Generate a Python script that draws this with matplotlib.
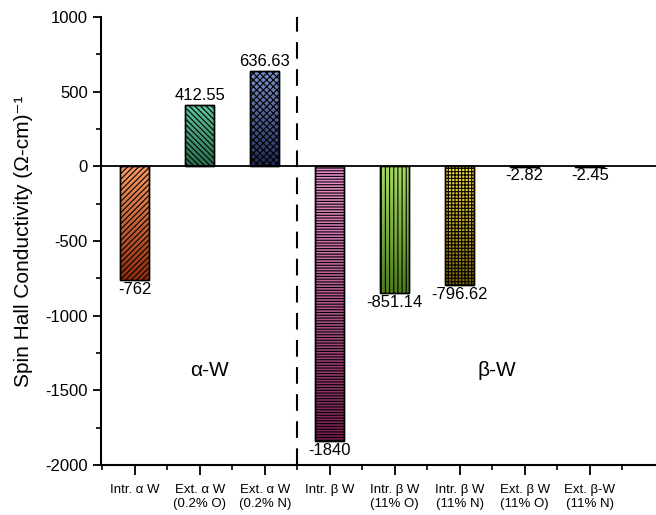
import numpy as np
import matplotlib
matplotlib.use("Agg")
import matplotlib.pyplot as plt
from matplotlib.colors import to_rgb

plt.rcParams['font.family'] = ['Liberation Sans', 'DejaVu Sans']
plt.rcParams['axes.unicode_minus'] = False
plt.rcParams['hatch.linewidth'] = 0.8

categories = ['Intr. α W', 'Ext. α W\n(0.2% O)', 'Ext. α W\n(0.2% N)', 'Intr. β W',
              'Intr. β W\n(11% O)', 'Intr. β W\n(11% N)', 'Ext. β W\n(11% O)', 'Ext. β-W\n(11% N)']
values = [-762, 412.55, 636.63, -1840, -851.14, -796.62, -2.82, -2.45]
labels = ['-762', '412.55', '636.63', '-1840', '-851.14', '-796.62', '-2.82', '-2.45']
hatches = ['//////', '\\\\\\\\\\\\', 'xxxxx', '------', '||||', '+++++', '', '']
top_colors = ['#fa9a62', '#5ec99c', '#7a90cc', '#ee92ce', '#aadc62', '#ffe43c', '#888888', '#888888']
bottom_colors = ['#902c0c', '#2c6e4e', '#1f2a54', '#7a1c50', '#4c7c1a', '#7c6000', '#333333', '#333333']

fig = plt.figure(figsize=(6.56, 5.15), dpi=100)
ax = fig.add_axes([0.154, 0.097, 0.846, 0.870])

x = np.arange(len(categories))
width = 0.45
bars = ax.bar(x, values, width, color='none', edgecolor='black', linewidth=1.0, zorder=3)

# gradient fill clipped to each bar, then hatch on top
for i, b in enumerate(bars):
    x0 = b.get_x()
    y0 = b.get_y()
    h = b.get_height()
    ylo, yhi = min(y0, y0 + h), max(y0, y0 + h)
    c1 = np.array(to_rgb(top_colors[i]))
    c2 = np.array(to_rgb(bottom_colors[i]))
    t = np.linspace(0, 1, 200)[:, None, None]
    grad = c1 * (1 - t) + c2 * t
    im = ax.imshow(grad, extent=[x0, x0 + width, ylo, yhi], origin='upper',
                   aspect='auto', zorder=2)
    im.set_clip_path(b)
    ax.bar(x[i], values[i], width, color='none', edgecolor='black', linewidth=1.0,
           hatch=hatches[i], zorder=4)

for i, v in enumerate(values):
    if v > 0:
        ax.annotate(labels[i], (x[i], v), xytext=(0, 1.5), textcoords='offset points',
                    ha='center', va='bottom', fontsize=12)
    else:
        ax.annotate(labels[i], (x[i], v), xytext=(0, -1), textcoords='offset points',
                    ha='center', va='top', fontsize=12)

ax.axhline(0, color='black', linewidth=1.3, zorder=5)
ax.axvline(2.5, color='black', linewidth=1.5, linestyle=(0, (8, 5)), zorder=5)

ax.text(1.15, -1365, 'α-W', fontsize=15, ha='center', va='center')
ax.text(5.57, -1365, 'β-W', fontsize=15, ha='center', va='center')

ax.set_xlim(-0.52, 8.02)
ax.set_ylim(-2000, 1000)
ax.set_xticks(x)
ax.set_xticklabels(categories, fontsize=9.5)
ax.set_xticks(np.arange(-0.5, 8.5, 1), minor=True)
ax.set_yticks(np.arange(-2000, 1001, 500))
ax.set_yticks(np.arange(-2000, 1001, 250), minor=True)
ax.tick_params(axis='y', labelsize=12, width=1.3, length=6)
ax.tick_params(axis='x', width=1.3, length=7, pad=7)
ax.tick_params(which='minor', width=1.2, length=3.5)
ax.set_ylabel('Spin Hall Conductivity (Ω-cm)⁻¹', fontsize=15, labelpad=9)

ax.spines['top'].set_visible(False)
ax.spines['right'].set_visible(False)
ax.spines['left'].set_linewidth(1.5)
ax.spines['bottom'].set_linewidth(1.5)

fig.savefig('out.png', dpi=100)
